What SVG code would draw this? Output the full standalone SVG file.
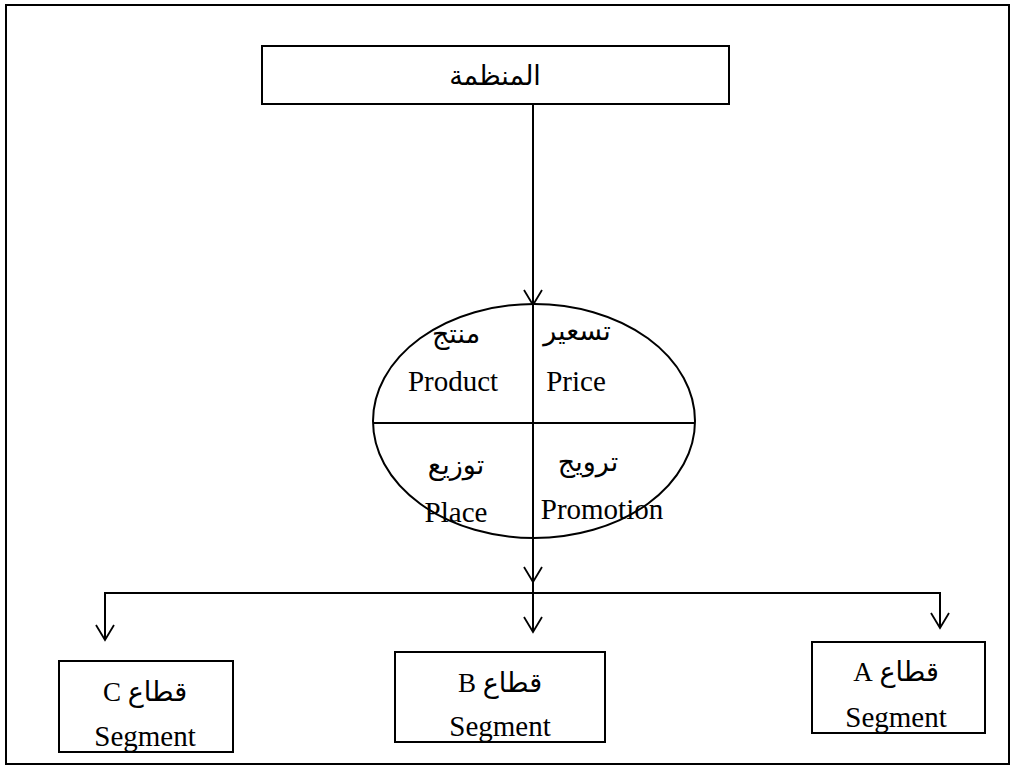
<svg xmlns="http://www.w3.org/2000/svg" width="1018" height="774" viewBox="0 0 1018 774">
<style>
.box{fill:#fff;stroke:#000;stroke-width:2}
.ln{fill:none;stroke:#000;stroke-width:2}
.ah{fill:none;stroke:#000;stroke-width:1.8}
.en{font-family:"Liberation Serif","Times New Roman",serif;font-size:29px;fill:#000;text-anchor:middle}
.ar{font-family:"Liberation Serif","DejaVu Sans",serif;font-size:27px;fill:#000;text-anchor:middle}
</style>
<rect x="0" y="0" width="1018" height="774" fill="#fff"/>
<rect x="6" y="5" width="1003" height="759" class="box"/>
<g id="org">
<rect x="262" y="46" width="467" height="58" class="box"/>
<text x="495" y="85" class="ar" direction="rtl">المنظمة</text>
</g>
<g id="mix">
<ellipse cx="534" cy="421" rx="161" ry="117" class="box"/>
<line x1="373" y1="423" x2="695" y2="423" class="ln"/>
<line x1="533" y1="304" x2="533" y2="538" class="ln"/>
<text x="456" y="343" class="ar" direction="rtl">منتج</text>
<text x="453" y="391" class="en">Product</text>
<text x="577" y="340" class="ar" direction="rtl">تسعير</text>
<text x="576" y="391" class="en">Price</text>
<text x="456" y="474" class="ar" direction="rtl">توزيع</text>
<text x="456" y="522" class="en">Place</text>
<text x="588" y="471" class="ar" direction="rtl">ترويج</text>
<text x="602" y="519" class="en">Promotion</text>
</g>
<g id="segC">
<rect x="59" y="661" width="174" height="91" class="box"/>
<text x="145" y="701" class="ar" direction="rtl">قطاع C</text>
<text x="145" y="746" class="en">Segment</text>
</g>
<g id="segB">
<rect x="395" y="652" width="210" height="90" class="box"/>
<text x="500" y="692" class="ar" direction="rtl">قطاع B</text>
<text x="500" y="736" class="en">Segment</text>
</g>
<g id="segA">
<rect x="812" y="642" width="173" height="91" class="box"/>
<text x="896" y="681" class="ar" direction="rtl">قطاع A</text>
<text x="896" y="727" class="en">Segment</text>
</g>
<g id="connectors">
<line x1="533" y1="104" x2="533" y2="304" class="ln"/>
<polyline points="524,290 533,305 542,290" class="ah"/>
<line x1="533" y1="538" x2="533" y2="632" class="ln"/>
<polyline points="524,567 533,582 542,567" class="ah"/>
<polyline points="105,640 105,593 940,593 940,628" class="ln"/>
<polyline points="96,625 105,640 114,625" class="ah"/>
<polyline points="524,617 533,632 542,617" class="ah"/>
<polyline points="931,613 940,628 949,613" class="ah"/>
</g>
</svg>
